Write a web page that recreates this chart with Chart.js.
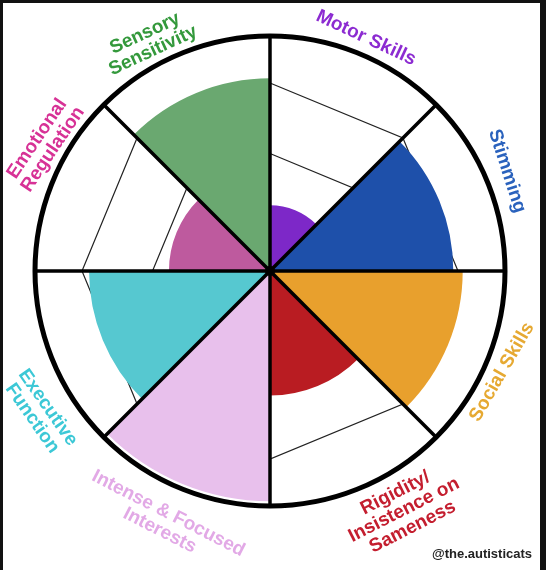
<!DOCTYPE html>
<html>
<head>
<meta charset="utf-8">
<script src="https://cdn.jsdelivr.net/npm/chart.js@4.4.1/dist/chart.umd.min.js"></script>
<style>
  html, body { margin: 0; padding: 0; background: #111; }
  #page { position: absolute; left: 3px; top: 3px; width: 537px; height: 567px; background: #fff; }
  #wheel { position: absolute; left: 0; top: 0; }
</style>
</head>
<body>
<div id="page"></div>
<canvas id="wheel" width="546" height="570"></canvas>
<script>
// Spectrum wheel data, clockwise from the top
const categories = ["Motor Skills", "Stimming", "Social Skills", "Rigidity/ Insistence on Sameness",
  "Intense & Focused Interests", "Executive Function", "Emotional Regulation", "Sensory Sensitivity"];
const levels = [0.28, 0.78, 0.82, 0.53, 0.98, 0.77, 0.43, 0.82];
const ringLevels = [0, 0.5, 0.8]; // hand drawn guide rings
const labelLines = [["Motor Skills"], ["Stimming"], ["Social Skills"], ["Rigidity/", "Insistence on", "Sameness"],
  ["Intense & Focused", "Interests"], ["Executive", "Function"], ["Emotional", "Regulation"], ["Sensory", "Sensitivity"]];
const fillColors = ["#7d28c8", "#1e50aa", "#e8a02d", "#b91c22", "#e8c0ec", "#56c8d0", "#be5a9e", "#6aa870"];
const textColors = ["#8c2bd1", "#2a62bd", "#e6a932", "#c41e2f", "#e2a9e6", "#3cc8d6", "#d73296", "#34993c"];

// where each label block sits on the page (centre + rotation in degrees)
const labelPlacement = [
  { x: 366, y: 38, rot: 25 },
  { x: 507, y: 171, rot: 72 },
  { x: 502, y: 372, rot: -60 },
  { x: 404, y: 510, rot: -27 },
  { x: 164, y: 522, rot: 27 },
  { x: 40, y: 413, rot: 55 },
  { x: 45, y: 144, rot: -56 },
  { x: 149, y: 42, rot: -25 }
];

// spokes, outer rim, hub and the rotated labels
const wheelFrame = {
  id: "wheelFrame",
  afterDatasetsDraw(chart) {
    const r = chart.scales.r;
    const ctx = chart.ctx;
    const R = r.getDistanceFromCenterForValue(r.max);
    ctx.save();
    ctx.strokeStyle = "#000";
    ctx.fillStyle = "#000";
    ctx.lineCap = "round";
    ctx.lineWidth = 3.5;
    categories.forEach((c, i) => {
      const p = r.getPointPosition(i, R);
      ctx.beginPath();
      ctx.moveTo(r.xCenter, r.yCenter);
      ctx.lineTo(p.x, p.y);
      ctx.stroke();
    });
    ctx.lineWidth = 5;
    ctx.beginPath();
    ctx.arc(r.xCenter, r.yCenter, R, 0, Math.PI * 2);
    ctx.stroke();
    ctx.beginPath();
    ctx.arc(r.xCenter, r.yCenter, 5, 0, Math.PI * 2);
    ctx.fill();
    ctx.restore();
  },
  afterDraw(chart) {
    const ctx = chart.ctx;
    ctx.save();
    ctx.font = "bold 19px 'Liberation Sans', Arial, sans-serif";
    ctx.textAlign = "center";
    ctx.textBaseline = "middle";
    labelLines.forEach((lines, i) => {
      const pl = labelPlacement[i];
      ctx.save();
      ctx.translate(pl.x, pl.y);
      ctx.rotate(pl.rot * Math.PI / 180);
      ctx.fillStyle = textColors[i];
      lines.forEach((line, k) => {
        ctx.fillText(line, 0, (k - (lines.length - 1) / 2) * 19);
      });
      ctx.restore();
    });
    ctx.fillStyle = "#222";
    ctx.font = "bold 13px 'Liberation Sans', Arial, sans-serif";
    ctx.fillText("@the.autisticats", 482, 554);
    ctx.restore();
  }
};

new Chart(document.getElementById("wheel"), {
  type: "polarArea",
  data: {
    labels: categories,
    datasets: [{
      data: levels,
      backgroundColor: fillColors,
      borderWidth: 0
    }]
  },
  options: {
    responsive: false,
    animation: false,
    layout: { padding: { left: 35, top: 36, right: 41, bottom: 64 } },
    plugins: {
      legend: { display: false },
      tooltip: { enabled: false }
    },
    scales: {
      r: {
        min: 0,
        max: 1,
        afterBuildTicks: (scale) => {
          scale.ticks = ringLevels.map(v => ({ value: v }));
        },
        ticks: { display: false },
        grid: { circular: false, color: "#222", lineWidth: 1.2 },
        angleLines: { display: false },
        pointLabels: { display: false }
      }
    }
  },
  plugins: [wheelFrame]
});
</script>
</body>
</html>
